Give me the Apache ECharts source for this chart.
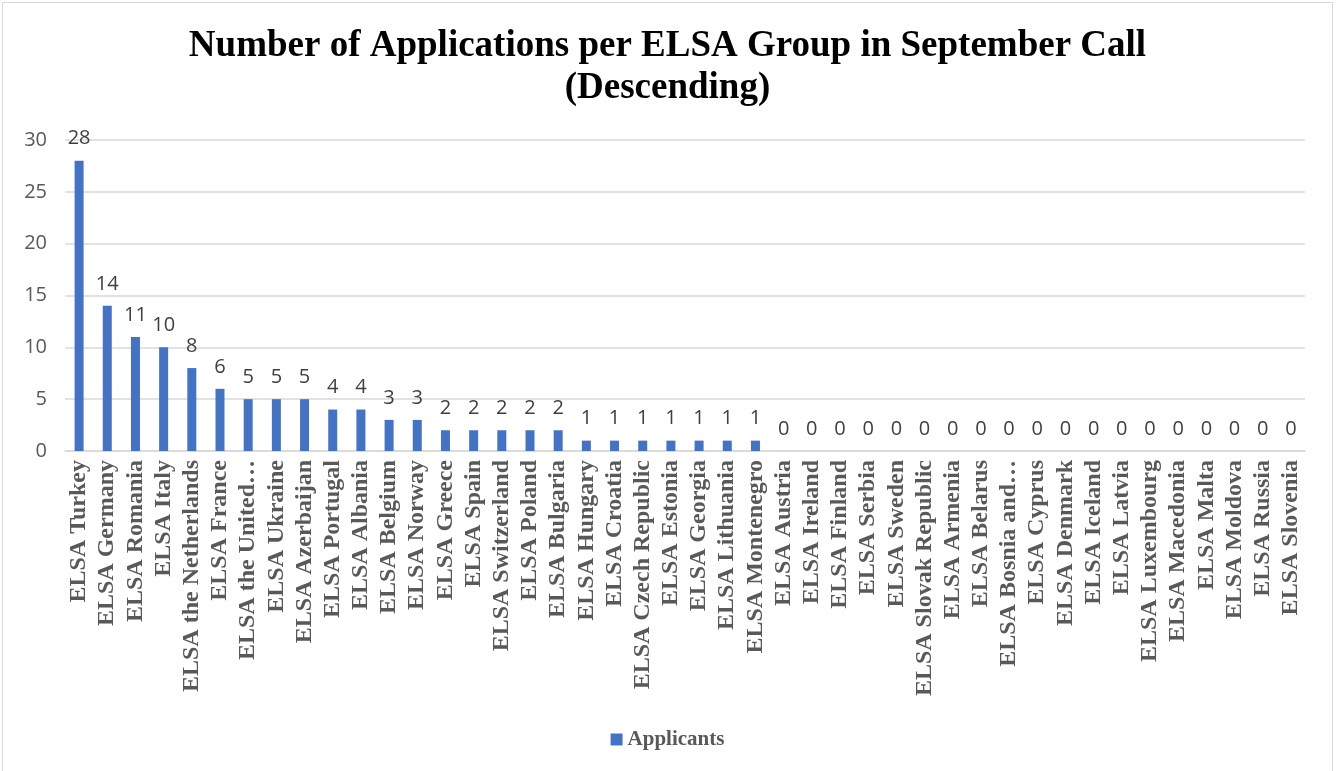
<!DOCTYPE html>
<html>
<head>
<meta charset="utf-8">
<script src="https://cdn.jsdelivr.net/npm/echarts@6/dist/echarts.min.js"></script>
<style>
  html, body { margin: 0; padding: 0; background: #fff; }
  #chart { position: absolute; left: 2px; top: 2px; width: 1331px; height: 780px; border: 1px solid #d9d9d9; box-sizing: border-box; }
</style>
</head>
<body>
<div id="chart"></div>
<script>
const groups = ['ELSA Turkey', 'ELSA Germany', 'ELSA Romania', 'ELSA Italy', 'ELSA the Netherlands', 'ELSA France',
  'ELSA the United Kingdom', 'ELSA Ukraine', 'ELSA Azerbaijan', 'ELSA Portugal', 'ELSA Albania', 'ELSA Belgium',
  'ELSA Norway', 'ELSA Greece', 'ELSA Spain', 'ELSA Switzerland', 'ELSA Poland', 'ELSA Bulgaria', 'ELSA Hungary',
  'ELSA Croatia', 'ELSA Czech Republic', 'ELSA Estonia', 'ELSA Georgia', 'ELSA Lithuania', 'ELSA Montenegro',
  'ELSA Austria', 'ELSA Ireland', 'ELSA Finland', 'ELSA Serbia', 'ELSA Sweden', 'ELSA Slovak Republic',
  'ELSA Armenia', 'ELSA Belarus', 'ELSA Bosnia and Herzegovina', 'ELSA Cyprus', 'ELSA Denmark', 'ELSA Iceland',
  'ELSA Latvia', 'ELSA Luxembourg', 'ELSA Macedonia', 'ELSA Malta', 'ELSA Moldova', 'ELSA Russia', 'ELSA Slovenia']
const applicants = [28, 14, 11, 10, 8, 6, 5, 5, 5, 4, 4, 3, 3, 2, 2, 2, 2, 2, 1, 1, 1, 1, 1, 1, 1,
  0, 0, 0, 0, 0, 0, 0, 0, 0, 0, 0, 0, 0, 0, 0, 0, 0, 0, 0]
const yTicks = [0, 5, 10, 15, 20, 25, 30]

const myChart = echarts.init(document.getElementById('chart'))
const serif = '"Liberation Serif", "Times New Roman", serif'
const sans = '"Open Sans", "Noto Sans", sans-serif'

const option = {
  animation: false,
  title: {
    text: 'Number of Applications per ELSA Group in September Call\n(Descending)',
    left: 'center',
    top: 17,
    textStyle: {
      fontFamily: serif,
      fontWeight: 'bold',
      fontSize: 37,
      lineHeight: 42,
      color: '#000'
    }
  },
  grid: {
    left: 62,
    right: 27,
    top: 137,
    bottom: 330
  },
  legend: {
    bottom: 26,
    left: 'center',
    itemWidth: 12,
    itemHeight: 12,
    icon: 'rect',
    textStyle: {
      fontFamily: serif,
      fontWeight: 'bold',
      fontSize: 21,
      color: '#595959'
    },
    data: ['Applicants']
  },
  xAxis: {
    type: 'category',
    data: groups,
    axisLine: { lineStyle: { color: '#d9d9d9', width: 1.5 } },
    axisTick: { show: false },
    axisLabel: {
      interval: 0,
      rotate: 90,
      margin: 9,
      fontFamily: serif,
      fontWeight: 'bold',
      fontSize: 24,
      color: '#595959',
      formatter: function (v) {
        return v.length > 20 ? v.slice(0, 15) + '…' : v
      }
    }
  },
  yAxis: {
    type: 'value',
    min: yTicks[0],
    max: yTicks[yTicks.length - 1],
    interval: 5,
    axisLine: { show: false },
    axisTick: { show: false },
    splitLine: { lineStyle: { color: '#d9d9d9', width: 1.5 } },
    axisLabel: {
      margin: 18,
      fontFamily: sans,
      fontSize: 20,
      color: '#595959'
    }
  },
  series: [{
    name: 'Applicants',
    type: 'bar',
    data: applicants,
    barWidth: 9,
    itemStyle: { color: '#4472c4' },
    label: {
      show: true,
      position: 'top',
      distance: 12,
      fontFamily: sans,
      fontSize: 20,
      color: '#404040'
    }
  }]
}

option && myChart.setOption(option)
</script>
</body>
</html>
